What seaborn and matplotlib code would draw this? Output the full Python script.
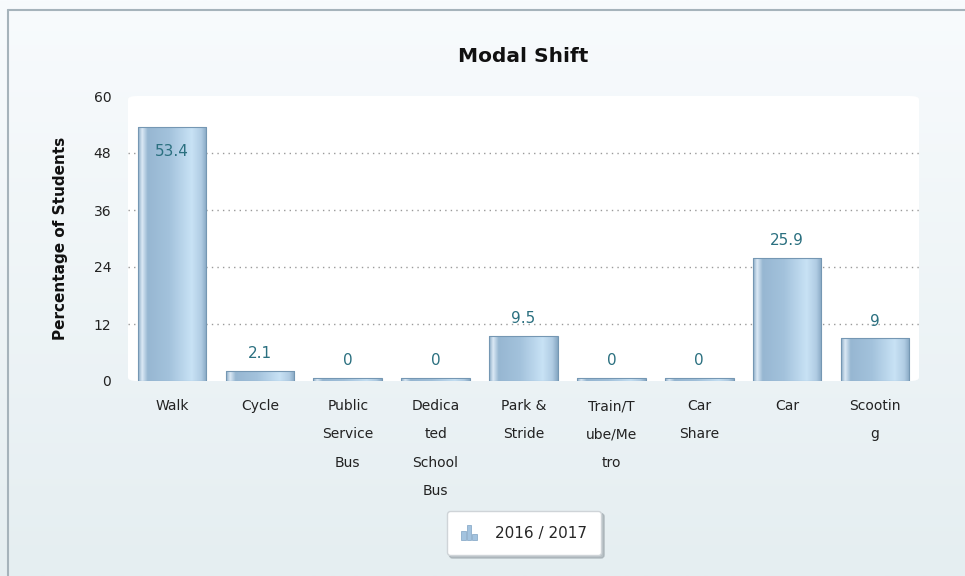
import numpy as np
import matplotlib
matplotlib.use("Agg")
import matplotlib.pyplot as plt
import seaborn as sns
from matplotlib.colors import LinearSegmentedColormap
from matplotlib.patches import FancyBboxPatch, Patch, Rectangle
from matplotlib.lines import Line2D
from matplotlib.legend_handler import HandlerBase

# data
categories = ["Walk", "Cycle", "Public\nService\nBus", "Dedica\nted\nSchool\nBus",
              "Park &\nStride", "Train/T\nube/Me\ntro", "Car\nShare", "Car", "Scootin\ng"]
values = [53.4, 2.1, 0, 0, 9.5, 0, 0, 25.9, 9]
value_labels = ["53.4", "2.1", "0", "0", "9.5", "0", "0", "25.9", "9"]
yticks = [0, 12, 24, 36, 48, 60]
series_name = "2016 / 2017"


class BarIconHandler(HandlerBase):
    # little three-bar icon like the original legend
    def create_artists(self, legend, orig_handle, xdescent, ydescent, width, height,
                       fontsize, trans):
        arts = []
        bw = width / 3.6
        for k, frac in enumerate([0.6, 1.0, 0.4]):
            arts.append(Rectangle((-xdescent + k * bw * 1.15, -ydescent), bw, height * frac,
                                  facecolor="#a3c3df", edgecolor="#7fa3c3", lw=0.5,
                                  transform=trans))
        return arts


sns.set_style("white")
plt.rcParams['font.family'] = ['DejaVu Sans']

fig = plt.figure(figsize=(9.65, 5.76), dpi=100)

# background gradient
bg = fig.add_axes([0, 0, 1, 1], zorder=-10)
bg_cmap = LinearSegmentedColormap.from_list("bg", ["#f8fbfd", "#e5eef1"])
bg.imshow(np.linspace(0, 1, 256).reshape(-1, 1), aspect="auto", cmap=bg_cmap,
          extent=[0, 1, 0, 1])
bg.axis("off")
fig.add_artist(Line2D([8 / 965, 1], [1 - 10 / 576, 1 - 10 / 576], color="#a6b3bb", lw=1.5,
                      transform=fig.transFigure))
fig.add_artist(Line2D([8 / 965, 8 / 965], [0, 1 - 10 / 576], color="#a6b3bb", lw=1.5,
                      transform=fig.transFigure))

ax = fig.add_axes([128 / 965, 195 / 576, 791 / 965, 285 / 576])
ax.set_facecolor("none")

# zero values still get a thin sliver like the original
display_values = np.maximum(values, 0.6)
sns.barplot(x=list(range(len(categories))), y=display_values, color="#a9c6de",
            width=0.78, edgecolor="#7597b3", linewidth=0.8, ax=ax, zorder=3)
bars = list(ax.patches)

ax.add_patch(FancyBboxPatch((0, 0), 1, 1, boxstyle="round,pad=0,rounding_size=0.012",
                            transform=ax.transAxes, facecolor="white", edgecolor="none",
                            zorder=-5, clip_on=False))

bar_cmap = LinearSegmentedColormap.from_list(
    "bar", [(0, "#8aabc6"), (0.06, "#dbe9f5"), (0.14, "#97b7d2"), (0.45, "#a3c2dc"),
            (0.78, "#c8e2f5"), (0.92, "#b0cce3"), (1, "#86a7c2")])
grad = np.linspace(0, 1, 256).reshape(1, -1)
for p in bars:
    x0, w, h = p.get_x(), p.get_width(), p.get_height()
    im = ax.imshow(grad, aspect="auto", cmap=bar_cmap, extent=[x0, x0 + w, 0, h],
                   zorder=3.5)
    im.set_clip_path(p)
    p.set_facecolor("none")
    p.set_zorder(4)

for i, (v, lab) in enumerate(zip(display_values, value_labels)):
    if v > 45:
        ax.annotate(lab, (i, v), xytext=(0, -12), textcoords="offset points",
                    ha="center", va="top", color="#2b7080", fontsize=11, zorder=5)
    else:
        ax.annotate(lab, (i, v), xytext=(0, 7), textcoords="offset points",
                    ha="center", va="bottom", color="#2b7080", fontsize=11, zorder=5)

ax.set_xlim(-0.5, len(categories) - 0.5)
ax.set_ylim(0, 60)
ax.set_yticks(yticks)
ax.set_yticklabels([str(t) for t in yticks], fontsize=10, color="#222222")
ax.set_xticks(range(len(categories)))
ax.set_xticklabels(categories, fontsize=10, color="#222222", linespacing=2.3, va="top")
ax.tick_params(axis="both", length=0)
ax.tick_params(axis="x", pad=13)
ax.tick_params(axis="y", pad=12)
for t in [12, 24, 36, 48]:
    ax.axhline(t, color="#9a9a9a", lw=1, ls=(0, (1, 3)), zorder=1)
for s in ax.spines.values():
    s.set_visible(False)

fig.text(523 / 965, 1 - 57 / 576, "Modal Shift", ha="center", va="center",
         fontsize=14.5, fontweight="bold", color="#111111")
fig.text(60 / 965, 1 - 238 / 576, "Percentage of Students", ha="center", va="center",
         rotation=90, fontsize=11, fontweight="bold", color="#111111")

leg = fig.legend(handles=[Patch(label=series_name)], handler_map={Patch: BarIconHandler()},
                 loc="center", bbox_to_anchor=(524 / 965, 1 - 533 / 576), frameon=True,
                 fancybox=True, shadow={"color": "#9aa4aa", "alpha": 0.6},
                 fontsize=11, borderpad=0.95, handlelength=1.1, handleheight=1.1,
                 handletextpad=1.1, borderaxespad=0)
leg.get_frame().set_facecolor("white")
leg.get_frame().set_edgecolor("#cfd4d8")
leg.get_frame().set_alpha(1)

fig.savefig("out.png", dpi=100)
